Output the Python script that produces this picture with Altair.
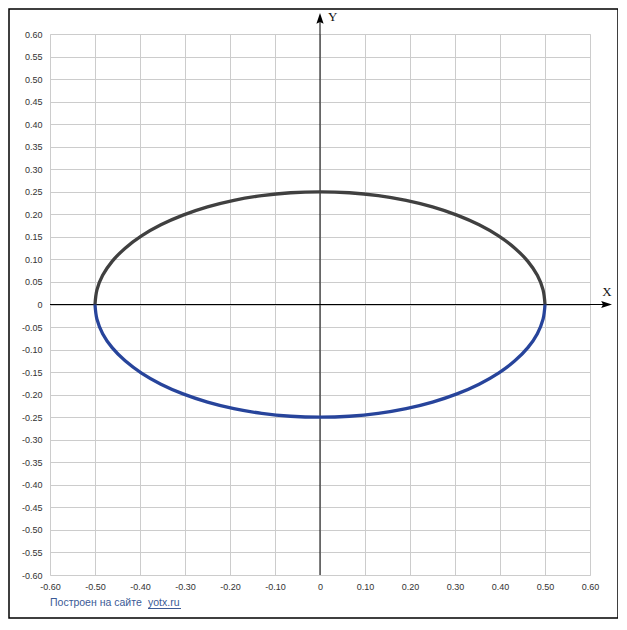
import altair as alt
import pandas as pd

# Values (upper half: dark grey, lower half: blue)
x_pts = [-0.5, -0.4957, -0.4830, -0.4619, -0.4330, -0.3967, -0.3536, -0.3044, -0.25, -0.1913, -0.1294, -0.0653,
         0.0, 0.0653, 0.1294, 0.1913, 0.25, 0.3044, 0.3536, 0.3967, 0.4330, 0.4619, 0.4830, 0.4957, 0.5]
y_upper = [0.0, 0.0326, 0.0647, 0.0957, 0.125, 0.1522, 0.1768, 0.1983, 0.2165, 0.2310, 0.2415, 0.2479,
           0.25, 0.2479, 0.2415, 0.2310, 0.2165, 0.1983, 0.1768, 0.1522, 0.125, 0.0957, 0.0647, 0.0326, 0.0]
y_lower = [-0.0, -0.0326, -0.0647, -0.0957, -0.125, -0.1522, -0.1768, -0.1983, -0.2165, -0.2310, -0.2415, -0.2479,
           -0.25, -0.2479, -0.2415, -0.2310, -0.2165, -0.1983, -0.1768, -0.1522, -0.125, -0.0957, -0.0647, -0.0326, -0.0]

x_ticks = [-0.6, -0.5, -0.4, -0.3, -0.2, -0.1, 0.0, 0.1, 0.2, 0.3, 0.4, 0.5, 0.6]
y_ticks = [-0.6, -0.55, -0.5, -0.45, -0.4, -0.35, -0.3, -0.25, -0.2, -0.15, -0.1, -0.05, 0.0,
           0.05, 0.1, 0.15, 0.2, 0.25, 0.3, 0.35, 0.4, 0.45, 0.5, 0.55, 0.6]

upper = pd.DataFrame({"x": x_pts, "y": y_upper})
lower = pd.DataFrame({"x": x_pts, "y": y_lower})

label_expr = "datum.value == 0 ? '0' : (datum.value < 0 ? '-' : '') + format(abs(datum.value), '.2f')"

xs = alt.Scale(domain=[-0.6, 0.6], nice=False, zero=False)
ys = alt.Scale(domain=[-0.6, 0.6], nice=False, zero=False)

x_axis = alt.Axis(values=x_ticks, labelExpr=label_expr, title=None, grid=True, domain=False,
                  ticks=False, labelPadding=7, labelFont="Liberation Sans", labelFontSize=9,
                  labelColor="#333333", gridColor="#cccccc", labelFlush=False, labelOverlap=False)
y_axis = alt.Axis(values=y_ticks, labelExpr=label_expr, title=None, grid=True, domain=False,
                  ticks=False, labelPadding=8, labelFont="Liberation Sans", labelFontSize=9,
                  labelColor="#333333", gridColor="#cccccc", labelFlush=False, labelOverlap=False)


def X(f):
    return alt.X(f, scale=xs, axis=x_axis)


def Y(f):
    return alt.Y(f, scale=ys, axis=y_axis)


def XD(v):
    return alt.XDatum(v, scale=xs, axis=x_axis)


def YD(v):
    return alt.YDatum(v, scale=ys, axis=y_axis)


base_df = pd.DataFrame({"x": [0.0], "y": [0.0]})

grid = alt.Chart(base_df).mark_point(opacity=0).encode(x=X("x:Q"), y=Y("y:Q"))

upper_line = alt.Chart(upper).mark_line(color="#404040", strokeWidth=3.3, interpolate="catmull-rom").encode(
    x=X("x:Q"), y=Y("y:Q"), order="x:Q")
lower_line = alt.Chart(lower).mark_line(color="#27449b", strokeWidth=3.3, interpolate="catmull-rom").encode(
    x=X("x:Q"), y=Y("y:Q"), order="x:Q")

x_axis_line = alt.Chart(base_df).mark_rule(color="black", strokeWidth=1).encode(
    x=alt.value(0), x2=alt.value(556), y=YD(0))
y_axis_line = alt.Chart(base_df).mark_rule(color="black", strokeWidth=1).encode(
    y=alt.value(-15), y2=alt.value(541), x=XD(0))

arrow_up = alt.Chart(base_df).mark_point(
    shape="M0,-1 L0.6,0.8 L0,0.5 L-0.6,0.8 Z", filled=True, color="black", size=144, opacity=1
).encode(x=XD(0), y=alt.value(-15))
arrow_right = alt.Chart(base_df).mark_point(
    shape="M1,0 L-0.8,0.6 L-0.5,0 L-0.8,-0.6 Z", filled=True, color="black", size=144, opacity=1
).encode(x=alt.value(556), y=YD(0))

y_label = alt.Chart(base_df).mark_text(text="Y", font="Liberation Serif", fontSize=13, color="#111111",
                                       align="left", baseline="middle", dx=8).encode(
    x=XD(0), y=alt.value(-17))
x_label = alt.Chart(base_df).mark_text(text="X", font="Liberation Serif", fontSize=13, color="#111111",
                                       align="center", baseline="middle", dy=-13).encode(
    x=alt.value(557), y=YD(0))

footer1 = alt.Chart(base_df).mark_text(text="Построен на сайте", font="Liberation Sans", fontSize=10.5,
                                       color="#3a5a96", align="left", baseline="alphabetic").encode(
    x=alt.value(0), y=alt.value(572))
footer2 = alt.Chart(base_df).mark_text(text="yotx.ru", font="Liberation Sans", fontSize=10.5,
                                       color="#3a5a96", align="left", baseline="alphabetic").encode(
    x=alt.value(98), y=alt.value(572))
underline = alt.Chart(base_df).mark_rule(color="#3a5a96", strokeWidth=1).encode(
    x=alt.value(98), x2=alt.value(131), y=alt.value(574.5))

frame = alt.Chart(base_df).mark_rect(fillOpacity=0, stroke="black", strokeWidth=1.5).encode(
    x=alt.value(-41), x2=alt.value(568), y=alt.value(-25), y2=alt.value(584))

chart = alt.layer(
    grid, frame, x_axis_line, y_axis_line, arrow_up, arrow_right, y_label, x_label,
    upper_line, lower_line, footer1, footer2, underline
).properties(
    width=540, height=541,
    autosize=alt.AutoSizeParams(type="none"),
    padding={"left": 42, "top": 26, "right": 28, "bottom": 45},
).configure_view(stroke=None).configure(background="white")

chart.save("out.html", embed_options={"renderer": "svg", "actions": False})
